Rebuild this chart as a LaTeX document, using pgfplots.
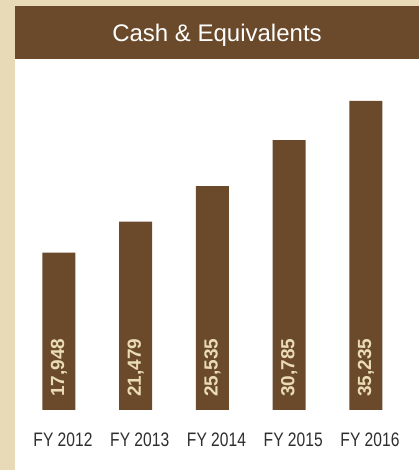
\documentclass[border=0pt]{standalone}
\usepackage{fontspec}
\setmainfont{Liberation Sans}
\newfontfamily\condensed{Liberation Sans}[FakeStretch=0.8]
\usepackage{pgfplots}
\pgfplotsset{compat=1.18}
\definecolor{beige}{HTML}{E8DAB6}
\definecolor{brownbar}{HTML}{6B4A2B}
\definecolor{cream}{HTML}{EADCB5}
\definecolor{labgray}{HTML}{2E2E2E}
\begin{document}
\begin{tikzpicture}[x=1pt,y=1pt]
\fill[beige] (0,0) rectangle (419,470);
\fill[white] (15,0) rectangle (419,464);
\fill[brownbar] (15,411) rectangle (419,464);
\node[anchor=base, text=white, font=\fontsize{24}{28}\selectfont, inner sep=0] at (217,428) {Cash \& Equivalents};
\begin{axis}[
  at={(20.6pt,60pt)}, anchor=south west,
  scale only axis, width=383.75pt, height=350.8pt,
  xmin=-0.5, xmax=4.5, ymin=0, ymax=40000,
  axis line style={draw=none},
  major tick length=0pt,
  ytick=\empty,
  xtick={0,1,2,3,4},
  xticklabels={FY 2012, FY 2013, FY 2014, FY 2015, FY 2016},
  xticklabel style={anchor=base, yshift=-37pt, xshift=4pt, text=labgray, font=\condensed\fontsize{19.5}{22}\selectfont},
  /pgf/number format/assume math mode=true,
]
\addplot[ybar, bar width=33pt, fill=brownbar, draw=none] coordinates {
  (0,17948) (1,21479) (2,25535) (3,30785) (4,35235)
};
\addplot[draw=none, mark=none, point meta=explicit,
  nodes near coords={\pgfmathprintnumber[1000 sep={,}]{\pgfplotspointmeta}},
  every node near coord/.style={anchor=west, rotate=90, inner xsep=13pt, inner ysep=0pt, text=cream, font=\bfseries\fontsize{19}{21}\selectfont}]
  coordinates {
  (0,0) [17948] (1,0) [21479] (2,0) [25535] (3,0) [30785] (4,0) [35235]
};
\end{axis}
\end{tikzpicture}
\end{document}
